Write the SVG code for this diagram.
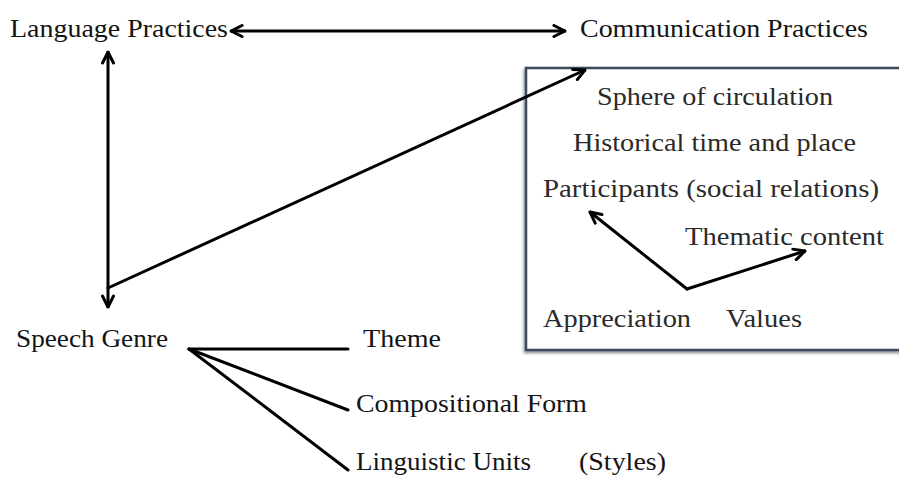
<svg xmlns="http://www.w3.org/2000/svg" width="899" height="477" viewBox="0 0 899 477">
<defs>
<style>
text{font-family:"Liberation Serif","DejaVu Serif",serif;font-size:26px;fill:#141414}
.in{fill:#2a2a2a}
.c{stroke:#000;stroke-width:3;fill:none;stroke-linecap:round}
</style>
<marker id="ah" viewBox="0 0 14 14" refX="13" refY="7" markerWidth="14" markerHeight="14" markerUnits="userSpaceOnUse" orient="auto-start-reverse">
<path d="M2,1.5 L13,7 L2,12.5" fill="none" stroke="#000" stroke-width="3" stroke-linecap="round" stroke-linejoin="round"/>
</marker>
<filter id="sh" x="-5%" y="-5%" width="110%" height="115%"><feDropShadow dx="-1" dy="2" stdDeviation="1.5" flood-color="#000" flood-opacity="0.45"/></filter>
</defs>
<rect width="899" height="477" fill="#fff"/>
<g id="box"><rect x="526" y="68" width="380" height="282" fill="#fff" stroke="#3b4a5c" stroke-width="2.5" filter="url(#sh)"/></g>
<g id="language-practices"><text x="10" y="37" textLength="218" lengthAdjust="spacingAndGlyphs">Language Practices</text></g>
<g id="communication-practices"><text x="580" y="37" textLength="288" lengthAdjust="spacingAndGlyphs">Communication Practices</text></g>
<g id="sphere"><text class="in" x="597" y="105" textLength="236" lengthAdjust="spacingAndGlyphs">Sphere of circulation</text></g>
<g id="historical"><text class="in" x="573" y="151" textLength="283" lengthAdjust="spacingAndGlyphs">Historical time and place</text></g>
<g id="participants"><text class="in" x="543" y="197" textLength="336" lengthAdjust="spacingAndGlyphs">Participants (social relations)</text></g>
<g id="thematic"><text class="in" x="685" y="245" textLength="199" lengthAdjust="spacingAndGlyphs">Thematic content</text></g>
<g id="appreciation"><text class="in" x="543" y="327" textLength="148" lengthAdjust="spacingAndGlyphs">Appreciation</text></g>
<g id="values"><text class="in" x="726" y="327" textLength="76" lengthAdjust="spacingAndGlyphs">Values</text></g>
<g id="speech-genre"><text x="16" y="347" textLength="152" lengthAdjust="spacingAndGlyphs">Speech Genre</text></g>
<g id="theme"><text x="363" y="347" textLength="78" lengthAdjust="spacingAndGlyphs">Theme</text></g>
<g id="compositional"><text x="356" y="412" textLength="231" lengthAdjust="spacingAndGlyphs">Compositional Form</text></g>
<g id="linguistic"><text x="356" y="470" textLength="175" lengthAdjust="spacingAndGlyphs">Linguistic Units</text></g>
<g id="styles"><text x="579" y="470" textLength="87" lengthAdjust="spacingAndGlyphs">(Styles)</text></g>
<g id="connectors">
<line class="c" x1="231" y1="31" x2="565" y2="31" marker-start="url(#ah)" marker-end="url(#ah)"/>
<line class="c" x1="108" y1="52" x2="108" y2="307" marker-start="url(#ah)" marker-end="url(#ah)"/>
<line class="c" x1="108" y1="288" x2="585" y2="70" marker-end="url(#ah)"/>
<line class="c" x1="687" y1="289" x2="590" y2="212" marker-end="url(#ah)"/>
<line class="c" x1="687" y1="289" x2="805" y2="251" marker-end="url(#ah)"/>
<line class="c" x1="189" y1="349" x2="348" y2="349"/>
<line class="c" x1="189" y1="349" x2="348" y2="410"/>
<line class="c" x1="189" y1="349" x2="348" y2="470"/>
</g>
</svg>
